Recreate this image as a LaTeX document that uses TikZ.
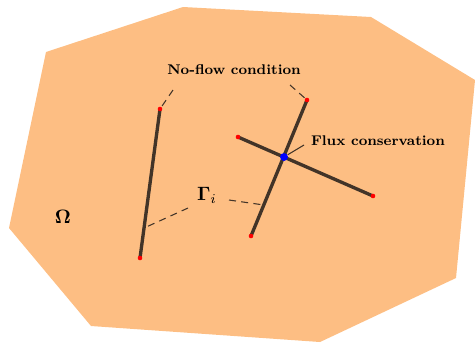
\documentclass[tikz,border=0pt]{standalone}
\usepackage{amsmath}
\usepackage{bm}
\definecolor{domaincol}{RGB}{253,190,131}
\definecolor{fraccol}{RGB}{66,52,40}
\tikzset{
  fracture/.style={draw=fraccol,line width=1.9pt},
  tipdot/.style={fill=red,circle,inner sep=0pt,minimum size=2.6pt},
  crossdot/.style={fill=blue,circle,inner sep=0pt,minimum size=4.5pt},
  pointer/.style={draw=fraccol,line width=0.6pt,dash pattern=on 4pt off 3pt},
  labeltext/.style={font=\footnotesize\bfseries,inner sep=1pt}
}
\begin{document}
\begin{tikzpicture}[x=0.02cm,y=-0.02cm]
            \useasboundingbox (0,0) rectangle (475,342);

            % domain
            \fill[domaincol] (46,52) -- (183,7) -- (371,17) -- (475,80)
            -- (456,278) -- (320,342) -- (91,326) -- (9,228) -- cycle;

            % fracture end points
            \coordinate (fa1) at (160,109);
            \coordinate (fa2) at (140,258);
            \coordinate (fb1) at (307,100);
            \coordinate (fb2) at (251,236);
            \coordinate (fc1) at (238,137);
            \coordinate (fc2) at (373,196);
            \coordinate (cross) at (284,157);

            \draw[fracture] (fa1) -- (fa2);
            \draw[fracture] (fb1) -- (fb2);
            \draw[fracture] (fc1) -- (fc2);

            \foreach \p in {fa1,fa2,fb1,fb2,fc1,fc2}
            \node[tipdot] at (\p) {};
            \node[crossdot] (xdot) at (cross) {};

            % labels
            \node[labeltext] (noflow) at (234,70) {No-flow condition};
            \node[labeltext,anchor=west] (flux) at (309,141) {Flux conservation};
            \node[scale=1.1] (gamma) at (207,195) {$\bm{\Gamma}_i$};
            \node[scale=1.1] (omega) at (63,217) {$\bm{\Omega}$};

            % pointer ends
            \coordinate (nfA) at (173,90);
            \coordinate (nfB) at (290,85);
            \coordinate (gmA) at (188,208);
            \coordinate (gmB) at (229,200);
            \coordinate (gA) at (144,228);
            \coordinate (gB) at (264,205);
            \coordinate (fxA) at (304,145);

            \draw[pointer] (nfA) -- (fa1);
            \draw[pointer] (nfB) -- (fb1);
            \draw[pointer] (gmA) -- (gA);
            \draw[pointer] (gmB) -- (gB);
            \draw[draw=fraccol,line width=0.6pt] (xdot) -- (fxA);
        \end{tikzpicture}
\end{document}
